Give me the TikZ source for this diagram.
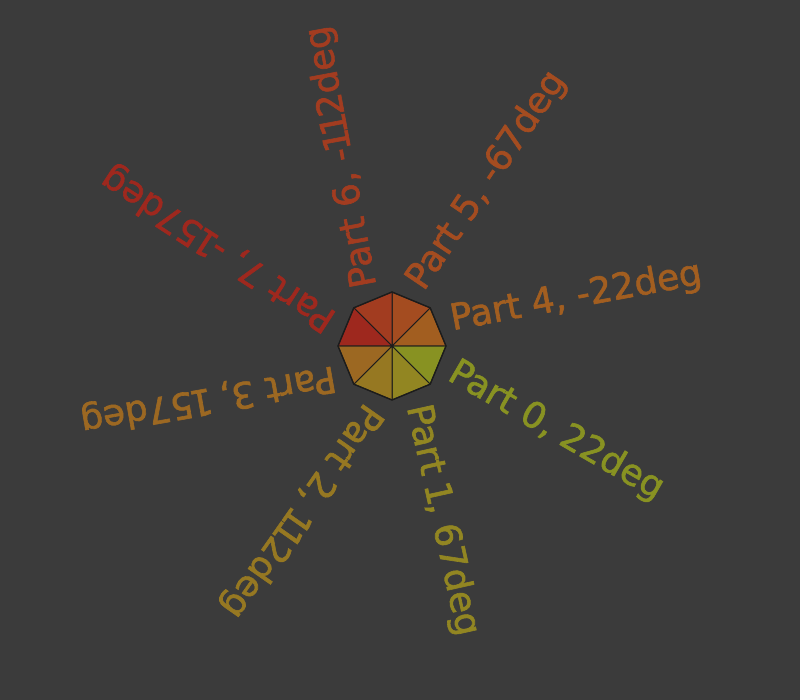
\documentclass[tikz,border=0pt]{standalone}
\usepackage{fontspec}
\setmainfont{DejaVu Sans}
\newfontfamily\labelfont[FakeBold=1.7]{DejaVu Sans}
\definecolor{bggray}{RGB}{59,59,59}
\definecolor{edgegray}{RGB}{28,28,28}
\definecolor{part0}{RGB}{136,146,34}
\definecolor{part1}{RGB}{146,134,34}
\definecolor{part2}{RGB}{150,120,34}
\definecolor{part3}{RGB}{156,104,34}
\definecolor{part4}{RGB}{162,94,32}
\definecolor{part5}{RGB}{164,76,32}
\definecolor{part6}{RGB}{162,60,32}
\definecolor{part7}{RGB}{158,40,30}
\usetikzlibrary{positioning}

\newcommand\thinone{\makebox[0.46em]{1}}

\tikzset{
  partlabel/.style={anchor=west,inner sep=0pt,font=\labelfont\fontsize{36}{36}\selectfont},
  wedge/.style={draw=edgegray,line width=1pt,line join=round}
}

\begin{document}
\begin{tikzpicture}[x=1pt,y=1pt]
  \useasboundingbox (-392,-354) rectangle (408,346);
  \fill[bggray] (-392,-354) rectangle (408,346);

  \foreach \k/\from/\col in {0/0/part0,1/-45/part1,2/-90/part2,3/-135/part3,
      4/0/part4,5/45/part5,6/90/part6,7/135/part7}{
    \ifnum\k<4
      \filldraw[wedge,fill=\col] (0,0) -- (\from:54) -- (\from-45:54) -- cycle;
    \else
      \filldraw[wedge,fill=\col] (0,0) -- (\from:54) -- (\from+45:54) -- cycle;
    \fi
  }
  \draw[edgegray,line width=1.3pt,line join=round]
    (0:54) \foreach \a in {45,90,...,315} { -- (\a:54) } -- cycle;

  \foreach \n/\at/\rot/\txt in {
      0/-22.5/-30/{Part 0, 22deg},
      1/-67.5/-77.5/{Part \thinone, 67deg},
      2/-107/-125/{Part 2, \thinone\thinone2deg},
      3/-152/-170/{Part 3, \thinone57deg},
      4/23.5/10.5/{Part 4, -22deg},
      5/68.5/56/{Part 5, -67deg},
      6/113.5/100.5/{Part 6, -\thinone\thinone2deg},
      7/158/147/{Part 7, -\thinone57deg}}{
    \node[partlabel,text=part\n,rotate=\rot] (lbl\n) at (\at:64) {\txt};
  }
\end{tikzpicture}
\end{document}
